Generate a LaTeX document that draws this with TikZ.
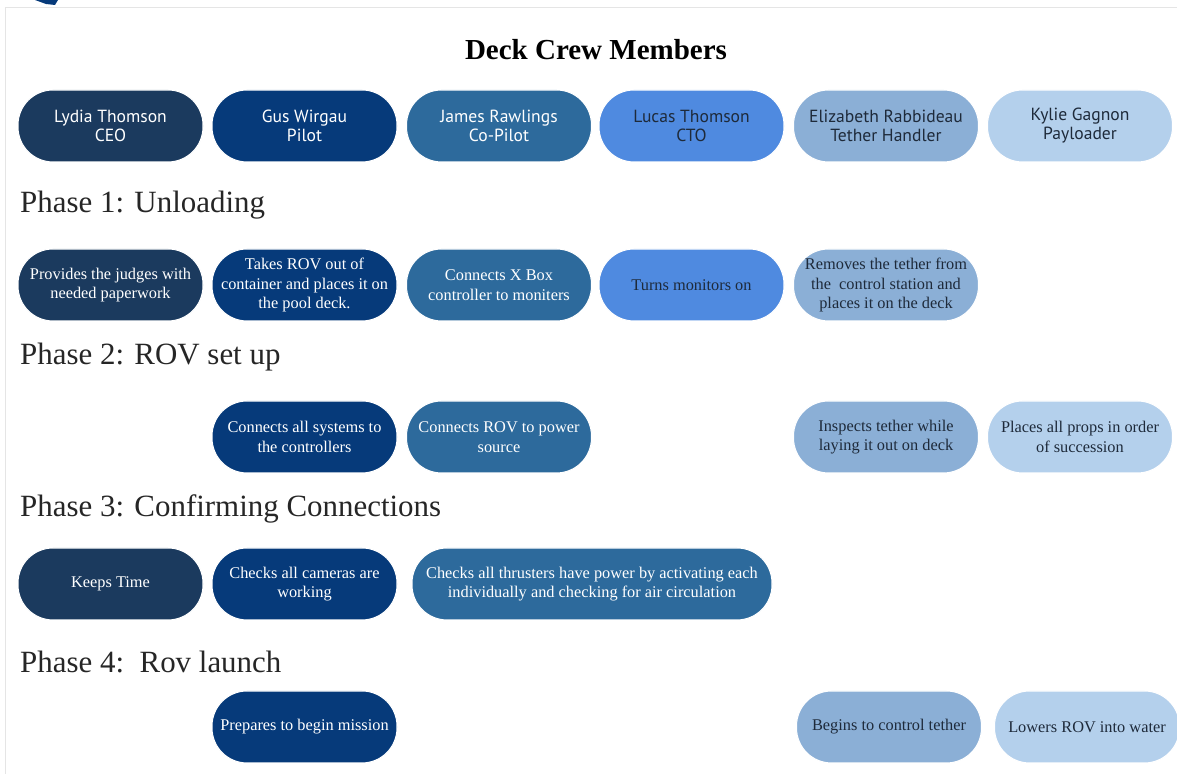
\documentclass[tikz,border=0pt]{standalone}
\usepackage{fontspec}
\setmainfont{Liberation Serif}
\newfontfamily\crewfont{PT Sans}
\usepackage{xcolor}
\usepackage{tikz}
\definecolor{dnavy}{HTML}{1B3A5E}
\definecolor{dblue}{HTML}{063A7A}
\definecolor{mblue}{HTML}{2D6A9C}
\definecolor{bblue}{HTML}{4F8AE0}
\definecolor{lblue}{HTML}{8BAFD6}
\definecolor{pblue}{HTML}{B4D0EC}
\definecolor{dtext}{HTML}{1E2A3A}

\tikzset{
  pill/.style={rounded corners=0.7cm, minimum width=3.7cm, minimum height=1.44cm,
    align=center, inner sep=1pt, draw=white, line width=0.6pt},
  crew/.style={pill, font=\crewfont\fontsize{10}{10.8}\selectfont},
  task/.style={pill, font=\fontsize{9.3}{11.2}\selectfont},
  phase/.style={anchor=west, font=\fontsize{17.6}{19}\selectfont, text=black!85},
}

\begin{document}
\begin{tikzpicture}[x=1cm, y=1cm]
\useasboundingbox (0,0) rectangle (23.54,15.48);
\fill[white] (0,0) rectangle (23.54,15.48);
\draw[gray!20, line width=0.4pt] (0.1,0) -- (0.1,15.34) -- (23.54,15.34);
\fill[dblue] (0.70,15.48) -- (1.16,15.48) -- (1.10,15.38) -- (0.92,15.40) -- cycle;

\node[font=\fontsize{16.5}{19}\selectfont\bfseries] (title) at (11.92,14.48) {Deck Crew Members};

% crew members
\node[crew, fill=dnavy, text=white] (lydia) at (2.21,12.96) {Lydia Thomson\\CEO};
\node[crew, fill=dblue, text=white] (gus) at (6.09,12.96) {Gus Wirgau\\Pilot};
\node[crew, fill=mblue, text=white!90] (james) at (9.98,12.96) {James Rawlings\\Co-Pilot};
\node[crew, fill=bblue, text=dtext] (lucas) at (13.83,12.96) {Lucas Thomson\\CTO};
\node[crew, fill=lblue, text=dtext] (elizabeth) at (17.72,12.96) {Elizabeth Rabbideau\\Tether Handler};
\node[crew, fill=pblue, text=dtext] (kylie) at (21.60,12.96) {Kylie Gagnon\\Payloader};

% phase 1
\node[phase] (ph1) at (0.28,11.38) {Phase 1: Unloading};
\node[task, fill=dnavy, text=white] (p1a) at (2.21,9.78) {Provides the judges with\\needed paperwork};
\node[task, fill=dblue, text=white] (p1b) at (6.09,9.78) {Takes ROV out of\\container and places it on\\the pool deck.};
\node[task, fill=mblue, text=white] (p1c) at (9.98,9.78) {Connects X Box\\controller to moniters};
\node[task, fill=bblue, text=dtext] (p1d) at (13.83,9.78) {Turns monitors on};
\node[task, fill=lblue, text=dtext] (p1e) at (17.72,9.78) {Removes the tether from\\the\ \ control station and\\places it on the deck};

% phase 2
\node[phase] (ph2) at (0.28,8.34) {Phase 2: ROV set up};
\node[task, fill=dblue, text=white] (p2b) at (6.09,6.74) {Connects all systems to\\the controllers};
\node[task, fill=mblue, text=white] (p2c) at (9.98,6.74) {Connects ROV to power\\source};
\node[task, fill=lblue, text=dtext] (p2e) at (17.72,6.74) {Inspects tether while\\laying it out on deck};
\node[task, fill=pblue, text=dtext] (p2f) at (21.60,6.74) {Places all props in order\\of succession};

% phase 3
\node[phase] (ph3) at (0.28,5.30) {Phase 3: Confirming Connections};
\node[task, fill=dnavy, text=white] (p3a) at (2.21,3.80) {Keeps Time};
\node[task, fill=dblue, text=white] (p3b) at (6.09,3.80) {Checks all cameras are\\working};
\node[task, fill=mblue, text=white, minimum width=7.2cm] (p3c) at (11.84,3.80) {Checks all thrusters have power by activating each\\individually and checking for air circulation};

% phase 4
\node[phase] (ph4) at (0.28,2.24) {Phase 4:\ \ Rov launch};
\node[task, fill=dblue, text=white] (p4b) at (6.09,0.94) {Prepares to begin mission};
\node[task, fill=lblue, text=dtext] (p4e) at (17.78,0.94) {Begins to control tether};
\node[task, fill=pblue, text=dtext] (p4f) at (21.74,0.94) {Lowers ROV into water};
\end{tikzpicture}
\end{document}
